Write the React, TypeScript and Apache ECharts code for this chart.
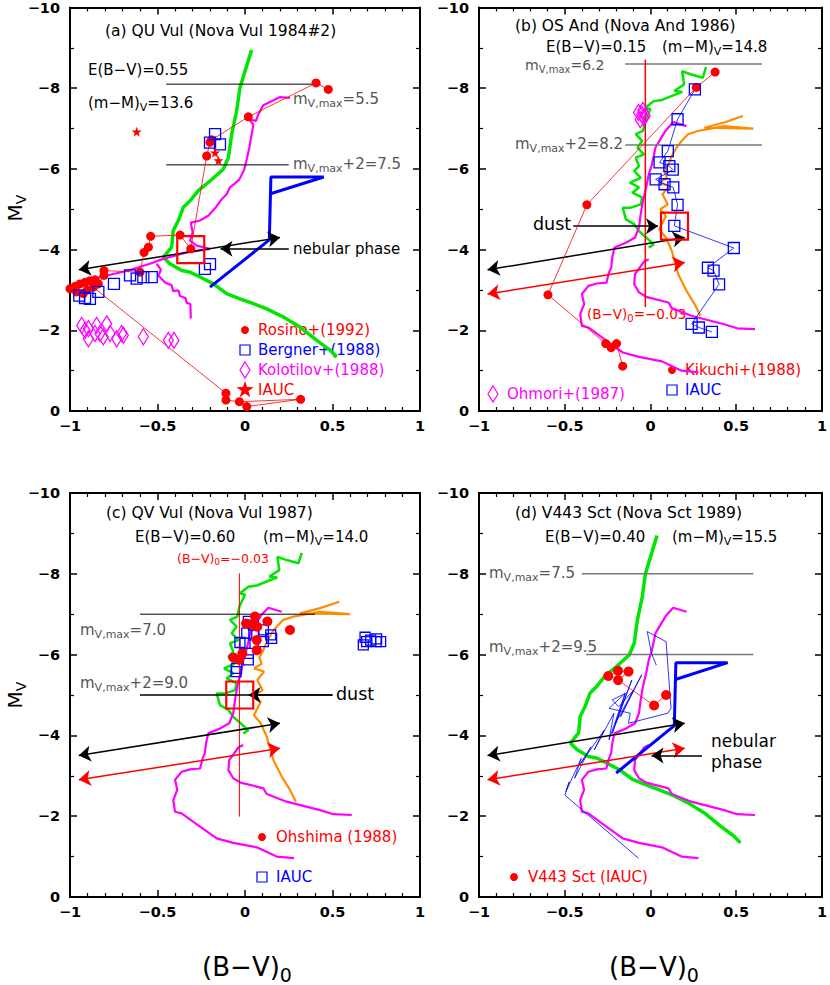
import React, { useEffect, useRef } from 'react';
import * as echarts from 'echarts';

const FONT = 'DejaVu Sans';
const RED = '#ff0000';
const BLUE = '#0000ff';
const GREEN = '#00e600';
const MAGENTA = '#ff00ff';
const ORANGE = '#ff8c00';
const GRAY = '#555555';
const NONE = 'rgba(0,0,0,0)';

// ---- axis ticks ----
const X_TICKS = { min: -1, max: 1, interval: 0.5 };
const Y_TICKS = { min: -10, max: 0, interval: 2 };

// ---- template tracks ----
const greenSmooth = [[0.038,-8.95],[-0.029,-8.01],[-0.048,-7.43],[-0.076,-6.86],[-0.095,-6.28],[-0.124,-5.99],[-0.2,-5.70],[-0.267,-5.46],[-0.314,-5.21],[-0.352,-5.05],[-0.381,-4.72],[-0.41,-4.47],[-0.419,-4.06],[-0.467,-3.81],[-0.429,-3.65],[-0.362,-3.48],[-0.314,-3.44],[-0.257,-3.32],[-0.181,-3.15],[-0.105,-2.91],[-0.029,-2.78],[0.048,-2.66],[0.124,-2.53],[0.219,-2.33],[0.314,-2.08],[0.41,-1.75],[0.486,-1.51],[0.524,-1.34]];
const greenJagged = [[0.324,-8.52],[0.305,-8.26],[0.238,-8.34],[0.185,-8.42],[0.196,-8.09],[0.139,-7.93],[0.185,-7.91],[0.067,-7.71],[0.019,-7.68],[-0.029,-7.52],[0,-7.48],[-0.032,-7.19],[-0.044,-6.94],[-0.086,-6.86],[-0.048,-6.69],[-0.076,-6.53],[-0.038,-6.36],[-0.086,-6.28],[-0.067,-6.07],[-0.095,-5.95],[-0.057,-5.78],[-0.12,-5.66],[-0.067,-5.54],[-0.105,-5.41],[-0.048,-5.29],[-0.057,-5.12],[-0.114,-5.04],[-0.162,-5.04],[-0.143,-4.75],[-0.095,-4.63],[-0.067,-4.46],[0.019,-4.13],[-0.01,-4.05]];
const orangeTrack = [[0.539,-7.31],[0.429,-7.15],[0.314,-7.02],[0.6,-7.0],[0.429,-7.06],[0.276,-6.94],[0.219,-6.86],[0.181,-6.69],[0.152,-6.53],[0.124,-6.32],[0.105,-6.11],[0.082,-5.93],[0.095,-5.77],[0.051,-5.66],[0.109,-5.58],[0.07,-5.37],[0.101,-5.12],[0.057,-5.0],[0.09,-4.83],[0.051,-4.50],[0.09,-4.30],[0.124,-3.97],[0.162,-3.39],[0.21,-2.98],[0.257,-2.65],[0.291,-2.36]];
const magentaUpper = [[0.21,-7.06],[0.133,-7.16],[0.09,-6.96],[0.057,-6.73],[0.029,-6.53],[0.019,-6.32],[0.006,-6.07],[-0.01,-5.87],[-0.025,-5.54],[-0.044,-5.21],[-0.057,-4.88],[-0.067,-4.55],[-0.09,-4.30],[-0.143,-4.17],[-0.21,-4.05],[-0.223,-3.80],[-0.229,-3.56],[-0.242,-3.43],[-0.257,-3.18],[-0.314,-3.16],[-0.362,-3.10],[-0.4,-2.90],[-0.387,-2.65],[-0.41,-2.40],[-0.4,-2.11],[-0.362,-2.07],[-0.295,-1.86],[-0.162,-1.45],[-0.067,-1.34],[0.067,-1.23],[0.181,-1.0],[0.28,-0.96]];
const magentaLower = [[-0.01,-3.76],[-0.038,-3.70],[-0.09,-3.39],[-0.095,-3.14],[-0.067,-2.94],[-0.025,-2.83],[0.105,-2.69],[0.124,-2.55],[0.238,-2.36],[0.429,-2.15],[0.505,-2.05],[0.61,-2.03]];
const blueThick = [[-0.2,-3.07],[0.139,-4.24],[0.148,-5.80],[0.45,-5.80],[0.15,-5.39]];
const magentaQU = [[0.257,-7.76],[0.2,-7.78],[0.105,-7.58],[0.076,-7.35],[0.063,-7.19],[0.025,-7.23],[0.048,-7.09],[0.038,-6.86],[0.025,-6.53],[0.01,-6.24],[-0.004,-5.99],[-0.032,-5.74],[-0.057,-5.64],[-0.086,-5.54],[-0.105,-5.37],[-0.133,-5.25],[-0.166,-5.05],[-0.21,-4.84],[-0.257,-4.72],[-0.31,-4.67],[-0.299,-4.43],[-0.314,-4.22],[-0.276,-4.10],[-0.2,-4.02],[-0.333,-3.93],[-0.467,-3.77],[-0.543,-3.65],[-0.676,-3.47],[-0.829,-3.32],[-0.943,-3.19],[-1.0,-3.09]];
const magentaQUBranch = [[-0.505,-3.65],[-0.48,-3.50],[-0.495,-3.35],[-0.455,-3.18],[-0.42,-3.12],[-0.41,-2.97],[-0.38,-2.99],[-0.372,-2.85],[-0.34,-2.80],[-0.333,-2.68],[-0.312,-2.65],[-0.31,-2.29]];

// ---- observations ----
const rosino = [[0.476,-7.97],[0.406,-8.13],[0.019,-7.29],[-0.19,-6.72],[-0.2,-6.66],[-0.219,-6.32],[-0.31,-4.02],[-0.371,-4.36],[-0.539,-4.33],[-0.552,-4.06],[-0.577,-3.93],[-0.6,-3.44],[-0.806,-3.48],[-0.806,-3.36],[-0.838,-3.15],[-0.857,-3.25],[-0.886,-3.23],[-0.914,-3.19],[-0.943,-3.15],[-0.971,-3.09],[-1.0,-3.03],[-0.962,-2.95],[-0.924,-2.91],[-0.901,-3.0],[-0.867,-3.07],[-0.109,-0.44],[-0.109,-0.27],[-0.032,-0.23],[0.318,-0.29],[0.01,-0.11]];
const bergner = [[-0.2,-6.65],[-0.171,-6.86],[-0.143,-6.61],[-0.229,-3.52],[-0.2,-3.64],[-0.533,-3.32],[-0.581,-3.32],[-0.619,-3.28],[-0.657,-3.36],[-0.749,-3.15],[-0.838,-2.95],[-0.886,-2.78],[-0.914,-2.80],[-0.947,-2.86]];
const kolotilov = [[-0.933,-2.12],[-0.895,-2.04],[-0.848,-2.12],[-0.79,-2.16],[-0.829,-1.92],[-0.895,-1.79],[-0.857,-1.92],[-0.81,-1.84],[-0.733,-1.79],[-0.695,-1.88],[-0.705,-1.92],[-0.581,-1.84],[-0.438,-1.75],[-0.406,-1.75],[-0.914,-2.0],[-0.771,-1.92]];
const iaucQU = [[-0.619,-6.92],[-0.171,-6.4],[-0.152,-6.21]];
const kikuchi = [[0.377,-8.40],[0.267,-8.02],[-0.371,-5.11],[-0.598,-2.88],[-0.261,-1.67],[-0.229,-1.57],[-0.198,-1.67],[-0.162,-1.11]];
const iaucOS = [[0.259,-7.97],[0.158,-7.23],[0.101,-6.44],[0.053,-6.16],[0.11,-6.07],[0.13,-5.98],[0.03,-5.74],[0.082,-5.62],[0.133,-5.54],[0.158,-5.11],[0.139,-4.59],[0.486,-4.04],[0.335,-3.55],[0.368,-3.48],[0.4,-3.14],[0.24,-2.16],[0.282,-2.07],[0.358,-1.96]];
const ohmori = [[-0.07,-7.4],[-0.051,-7.35],[-0.04,-7.28],[-0.06,-7.22],[-0.045,-7.45],[-0.03,-7.32]];
const ohshima = [[0.057,-6.94],[0.006,-6.77],[0.044,-6.73],[0.07,-6.69],[0.128,-6.82],[0.257,-6.61],[0.067,-6.36],[0.067,-6.11],[-0.015,-6.03],[-0.067,-5.93],[-0.032,-5.87]];
const iaucQV = [[0.019,-6.82],[0.048,-6.73],[0.01,-6.53],[0.051,-6.49],[0.105,-6.61],[0.147,-6.49],[0.152,-6.40],[0.105,-6.32],[0,-6.28],[-0.029,-6.30],[0.019,-6.03],[0.019,-5.87],[-0.048,-5.66],[-0.051,-5.58],[0.676,-6.24],[0.695,-6.32],[0.718,-6.36],[0.749,-6.32],[0.775,-6.32],[0.686,-6.43],[0.752,-6.39]];
const v443 = [[-0.246,-5.47],[-0.189,-5.60],[-0.128,-5.58],[-0.189,-5.37],[0.021,-4.74],[0.091,-5.0]];
const v443Track = [[-0.07,-0.96],[-0.499,-2.52],[-0.474,-2.85],[-0.493,-2.61],[-0.404,-3.43],[-0.442,-2.94],[-0.347,-3.72],[-0.413,-3.27],[-0.27,-4.13],[-0.328,-3.64],[-0.213,-4.55],[-0.242,-3.89],[-0.147,-5.04],[-0.223,-4.05],[-0.109,-5.37],[-0.204,-4.30],[-0.051,-5.50],[-0.175,-4.46],[-0.099,-5.12],[-0.185,-4.71],[-0.223,-4.88],[-0.147,-5.04],[-0.242,-4.67],[-0.118,-4.55],[-0.128,-4.30],[0.101,-4.55],[0.12,-4.67],[0.091,-6.32],[-0.019,-6.57],[0.006,-6.03],[0.034,-5.74]];

// ---- reference lines / arrows ----
const blackArrow = [[-0.95,-3.5],[0.2,-4.3]];
const redArrow = [[-0.95,-2.9],[0.2,-3.68]];
const dustSquares = [[[-0.31,-4.0]],[[0.14,-4.58]],[[-0.03,-5.0]]];

const GRIDS = [
  { left: 70, top: 6, width: 350, height: 405 },
  { left: 479, top: 6, width: 349, height: 405 },
  { left: 70, top: 493, width: 350, height: 404 },
  { left: 479, top: 493, width: 349, height: 404 },
];

const STAR = 'path://M0,-10 L2.35,-3.24 L9.51,-3.09 L3.8,1.24 L5.88,8.09 L0,4 L-5.88,8.09 L-3.8,1.24 L-9.51,-3.09 L-2.35,-3.24 Z';

const fmt = (v: number) => (v === 0 ? '0' : (v < 0 ? '\u2212' : '') + String(Math.abs(v)));

function xAx(g: number, pos: string) {
  return {
    type: 'value', gridIndex: g, position: pos, ...X_TICKS,
    axisLine: { show: true, onZero: false, lineStyle: { color: '#000', width: 2 } },
    axisTick: { show: true, inside: true, length: 7, lineStyle: { color: '#000', width: 1.5 } },
    minorTick: { show: true, splitNumber: 5, length: 4, lineStyle: { color: '#000', width: 1.2 } },
    splitLine: { show: false }, minorSplitLine: { show: false },
    axisLabel: { show: pos === 'bottom', formatter: fmt, color: '#000', fontFamily: FONT, fontWeight: 'bold', fontSize: 14.5, margin: 7 },
  };
}
function yAx(g: number, pos: string) {
  return {
    type: 'value', gridIndex: g, position: pos, inverse: true, ...Y_TICKS,
    axisLine: { show: true, onZero: false, lineStyle: { color: '#000', width: 2 } },
    axisTick: { show: true, inside: true, length: 7, lineStyle: { color: '#000', width: 1.5 } },
    minorTick: { show: true, splitNumber: 2, length: 4, lineStyle: { color: '#000', width: 1.2 } },
    splitLine: { show: false }, minorSplitLine: { show: false },
    axisLabel: { show: pos === 'left', formatter: fmt, color: '#000', fontFamily: FONT, fontWeight: 'bold', fontSize: 14.5, margin: 10 },
  };
}

const ln = (g: number, data: number[][], color: string, width: number, z = 2) => ({
  type: 'line', xAxisIndex: 2 * g, yAxisIndex: 2 * g, data, symbol: 'none', silent: true, z,
  lineStyle: { color, width },
});
const linePts = (g: number, data: number[][], color: string, symbol: string, size: number, filled: boolean) => ({
  type: 'line', xAxisIndex: 2 * g, yAxisIndex: 2 * g, data, symbol, symbolSize: size, showSymbol: true, silent: true, z: 5,
  lineStyle: { color, width: 0.8 },
  itemStyle: { color: filled ? color : NONE, borderColor: color, borderWidth: filled ? 0 : 1.3 },
});
const sc = (g: number, data: number[][], symbol: string, size: any, color: string, filled: boolean, bw = 1.3) => ({
  type: 'scatter', xAxisIndex: 2 * g, yAxisIndex: 2 * g, data, symbol, symbolSize: size, silent: true, z: 6,
  itemStyle: { color: filled ? color : NONE, borderColor: color, borderWidth: filled ? 0 : bw, opacity: 1 },
});
const arrow = (g: number, p: number[][], color: string, both = true) => ({
  type: 'line', xAxisIndex: 2 * g, yAxisIndex: 2 * g, data: p, symbol: 'none', silent: true, z: 4,
  lineStyle: { opacity: 0 },
  markLine: {
    silent: true, symbol: both ? ['arrow', 'arrow'] : ['none', 'arrow'], symbolSize: 12,
    label: { show: false }, lineStyle: { color, width: 1.5, type: 'solid' },
    data: [[{ coord: p[0] }, { coord: p[1] }]],
  },
});

const txt = (x: number, y: number, text: string, size = 15, fill = '#000') => ({
  type: 'text', x, y, silent: true,
  style: { text, fill, fontFamily: FONT, fontSize: size, align: 'left', verticalAlign: 'middle' },
});
const subTxt = (x: number, y: number, a: string, b: string, c: string, size = 15, fill = '#000', align = 'left', rotation = 0) => {
  const s = Math.round(size * 0.72);
  let text = `{n|${a}}{s|${b}}`;
  if (c) text += `{n|${c}}`;
  return {
    type: 'text', x, y, rotation, silent: true,
    style: {
      text, fill, fontFamily: FONT, fontSize: size, align, verticalAlign: 'middle',
      rich: {
        n: { fontFamily: FONT, fontSize: size, fill },
        s: { fontFamily: FONT, fontSize: s, fill, padding: [Math.round(size * 0.6), 0, 0, 0] },
      },
    },
  };
};
const lgCircle = (x: number, y: number) => ({ type: 'circle', silent: true, shape: { cx: x, cy: y, r: 4 }, style: { fill: RED } });
const lgSquare = (x: number, y: number) => ({ type: 'rect', silent: true, shape: { x: x - 5, y: y - 5, width: 10, height: 10 }, style: { fill: NONE, stroke: BLUE, lineWidth: 1.2 } });
const lgDiamond = (x: number, y: number) => ({ type: 'polygon', silent: true, shape: { points: [[x, y - 8], [x + 5, y], [x, y + 8], [x - 5, y]] }, style: { fill: NONE, stroke: MAGENTA, lineWidth: 1.2 } });
const lgStar = (x: number, y: number, R: number) => {
  const pts: number[][] = [];
  for (let i = 0; i < 10; i++) {
    const r = i % 2 === 0 ? R : R * 0.4;
    const a = -Math.PI / 2 + (i * Math.PI) / 5;
    pts.push([x + r * Math.cos(a), y + r * Math.sin(a)]);
  }
  return { type: 'polygon', silent: true, shape: { points: pts }, style: { fill: RED } };
};

function buildOption() {
  const xAxis: any[] = [];
  const yAxis: any[] = [];
  for (let g = 0; g < 4; g++) {
    xAxis.push(xAx(g, 'bottom'), xAx(g, 'top'));
    yAxis.push(yAx(g, 'left'), yAx(g, 'right'));
  }
  const series: any[] = [
    // (a)
    ln(0, greenSmooth, GREEN, 3.5),
    ln(0, magentaQU, MAGENTA, 2.2),
    ln(0, magentaQUBranch, MAGENTA, 2.2),
    ln(0, blueThick, BLUE, 3),
    ln(0, [[-0.45, -8.1], [0.43, -8.1]], '#000', 1),
    ln(0, [[-0.45, -6.1], [0.25, -6.1]], '#000', 1),
    linePts(0, rosino, RED, 'circle', 9, true),
    sc(0, bergner, 'rect', 11, BLUE, false),
    sc(0, kolotilov, 'diamond', [10, 16], MAGENTA, false),
    sc(0, iaucQU, STAR, 10, RED, true),
    sc(0, dustSquares[0], 'rect', 27, RED, false, 2.2),
    arrow(0, blackArrow, '#000'),
    arrow(0, [[0.25, -4.02], [-0.14, -4.02]], '#000', false),
    // (b)
    ln(1, greenJagged, GREEN, 2.5),
    ln(1, orangeTrack, ORANGE, 2.2),
    ln(1, magentaUpper, MAGENTA, 2.2),
    ln(1, magentaLower, MAGENTA, 2.2),
    ln(1, [[-0.147, -8.6], [0.65, -8.6]], '#777', 1.5),
    ln(1, [[-0.147, -6.59], [0.65, -6.59]], '#777', 1.5),
    ln(1, [[-0.03, -8.71], [-0.03, -2.58]], RED, 1.5),
    linePts(1, kikuchi, RED, 'circle', 9, true),
    linePts(1, iaucOS, BLUE, 'rect', 11, false),
    sc(1, ohmori, 'diamond', [10, 16], MAGENTA, false),
    sc(1, dustSquares[1], 'rect', 27, RED, false, 2.2),
    arrow(1, blackArrow, '#000'),
    arrow(1, redArrow, RED),
    arrow(1, [[-0.45, -4.58], [0.044, -4.58]], '#000', false),
    // (c)
    ln(2, greenJagged, GREEN, 2.5),
    ln(2, orangeTrack, ORANGE, 2.2),
    ln(2, magentaUpper, MAGENTA, 2.2),
    ln(2, magentaLower, MAGENTA, 2.2),
    ln(2, [[-0.032, -8.01], [-0.032, -1.99]], RED, 1),
    ln(2, [[-0.6, -7.0], [0.4, -7.0]], '#000', 1),
    ln(2, [[-0.6, -5.0], [0.5, -5.0]], '#000', 1.3),
    sc(2, iaucQV, 'rect', 10, BLUE, false),
    sc(2, ohshima, 'circle', 10, RED, true),
    sc(2, dustSquares[2], 'rect', 27, RED, false, 2.2),
    arrow(2, blackArrow, '#000'),
    arrow(2, redArrow, RED),
    arrow(2, [[0.5, -5.0], [0.02, -5.0]], '#000', false),
    // (d)
    ln(3, greenSmooth, GREEN, 3.5),
    ln(3, magentaUpper, MAGENTA, 2.2),
    ln(3, magentaLower, MAGENTA, 2.2),
    ln(3, blueThick, BLUE, 3),
    ln(3, v443Track, BLUE, 0.8, 3),
    ln(3, [[-0.4, -8.0], [0.6, -8.0]], '#777', 1.5),
    ln(3, [[-0.375, -6.0], [0.6, -6.0]], '#777', 1.5),
    linePts(3, v443, RED, 'circle', 10, true),
    arrow(3, blackArrow, '#000'),
    arrow(3, redArrow, RED),
    arrow(3, [[0.3, -3.5], [0.006, -3.5]], '#000', false),
  ];

  const graphic: any[] = [
    // (a)
    txt(105, 31, '(a) QU Vul (Nova Vul 1984#2)', 15.5),
    txt(88, 70, 'E(B\u2212V)=0.55', 15),
    subTxt(88, 103, '(m\u2212M)', 'V', '=13.6', 15),
    subTxt(293, 99, 'm', 'V,max', '=5.5', 15, GRAY),
    subTxt(293, 164, 'm', 'V,max', '+2=7.5', 15, GRAY),
    txt(293, 249, 'nebular phase', 15),
    lgCircle(245, 330), txt(258, 330, 'Rosino+(1992)', 15, RED),
    lgSquare(245, 350), txt(258, 350, 'Bergner+(1988)', 15, BLUE),
    lgDiamond(245, 370), txt(258, 370, 'Kolotilov+(1988)', 15, MAGENTA),
    lgStar(245, 390, 9), txt(258, 390, 'IAUC', 15, RED),
    // (b)
    txt(515, 26, '(b) OS And (Nova And 1986)', 15.5),
    txt(546, 47, 'E(B\u2212V)=0.15', 15),
    subTxt(662, 47, '(m\u2212M)', 'V', '=14.8', 15),
    subTxt(525, 65, 'm', 'V,max', '=6.2', 14, GRAY),
    subTxt(515, 144, 'm', 'V,max', '+2=8.2', 15, GRAY),
    txt(533, 224, 'dust', 17.5),
    subTxt(587, 314, '(B\u2212V)', '0', '=\u22120.03', 13.5, RED),
    lgCircle(672, 370), txt(685, 370, 'Kikuchi+(1988)', 15, RED),
    lgSquare(672, 390), txt(685, 390, 'IAUC', 15, BLUE),
    lgDiamond(493, 394), txt(507, 394, 'Ohmori+(1987)', 15, MAGENTA),
    // (c)
    txt(106, 513, '(c) QV Vul (Nova Vul 1987)', 15.5),
    txt(135, 537, 'E(B\u2212V)=0.60', 15),
    subTxt(263, 537, '(m\u2212M)', 'V', '=14.0', 15),
    subTxt(177, 558, '(B\u2212V)', '0', '=\u22120.03', 12.5, RED),
    subTxt(80, 630, 'm', 'V,max', '=7.0', 15, GRAY),
    subTxt(80, 683, 'm', 'V,max', '+2=9.0', 15, GRAY),
    txt(336, 694, 'dust', 17.5),
    lgCircle(262, 837), txt(276, 837, 'Ohshima (1988)', 15, RED),
    lgSquare(262, 877), txt(276, 877, 'IAUC', 15, BLUE),
    // (d)
    txt(515, 513, '(d) V443 Sct (Nova Sct 1989)', 15.5),
    txt(545, 537, 'E(B\u2212V)=0.40', 15),
    subTxt(672, 537, '(m\u2212M)', 'V', '=15.5', 15),
    subTxt(489, 573, 'm', 'V,max', '=7.5', 15, GRAY),
    subTxt(489, 647, 'm', 'V,max', '+2=9.5', 15, GRAY),
    txt(711, 741, 'nebular', 17),
    txt(711, 762, 'phase', 17),
    lgCircle(514, 877), txt(528, 877, 'V443 Sct (IAUC)', 15, RED),
    // axis titles
    subTxt(15, 208, 'M', 'V', '', 20, '#000', 'center', Math.PI / 2),
    subTxt(15, 695, 'M', 'V', '', 20, '#000', 'center', Math.PI / 2),
    subTxt(247, 967, '(B\u2212V)', '0', '', 26, '#000', 'center'),
    subTxt(654, 967, '(B\u2212V)', '0', '', 26, '#000', 'center'),
  ];

  return {
    animation: false,
    backgroundColor: '#fff',
    grid: GRIDS,
    xAxis,
    yAxis,
    series,
    graphic,
  };
}

export default function App() {
  const ref = useRef<HTMLDivElement>(null);
  useEffect(() => {
    const chart = echarts.init(ref.current as HTMLDivElement, null, { renderer: 'svg' });
    chart.setOption(buildOption() as any);
    return () => chart.dispose();
  }, []);
  return <div ref={ref} style={{ position: 'absolute', left: 0, top: 0, width: 830, height: 985, background: '#fff' }} />;
}
